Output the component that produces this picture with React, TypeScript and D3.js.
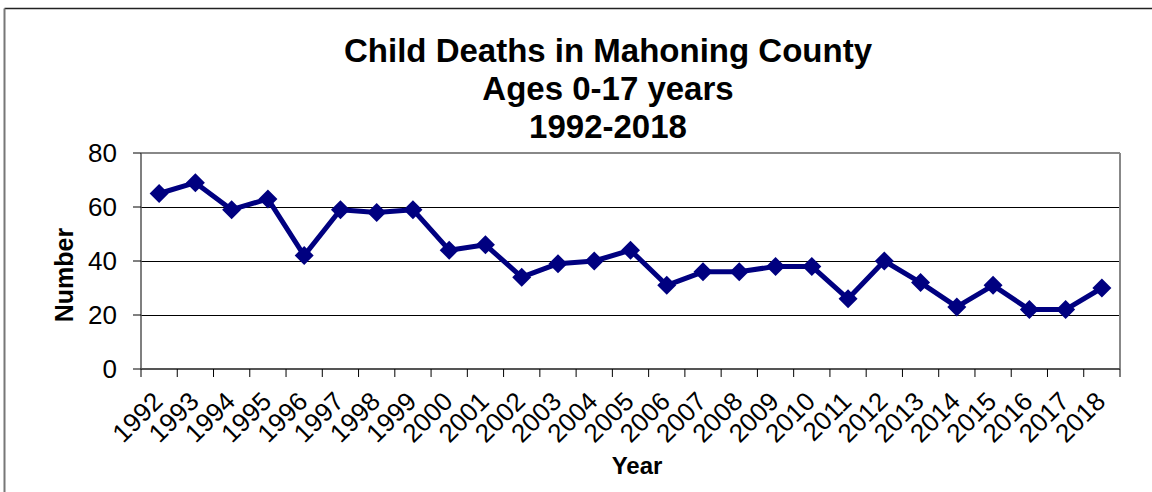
import * as d3 from "d3";

const years = [
  "1992", "1993", "1994", "1995", "1996", "1997", "1998", "1999", "2000",
  "2001", "2002", "2003", "2004", "2005", "2006", "2007", "2008", "2009",
  "2010", "2011", "2012", "2013", "2014", "2015", "2016", "2017", "2018",
];
const deaths = [
  65, 69, 59, 63, 42, 59, 58, 59, 44, 46, 34, 39, 40, 44, 31, 36, 36, 38, 38,
  26, 40, 32, 23, 31, 22, 22, 30,
];
const yTicks = [0, 20, 40, 60, 80];
const titleLines = ["Child Deaths in Mahoning County", "Ages 0-17 years", "1992-2018"];

const W = 1152;
const H = 492;
const font = "'Liberation Sans', Arial, sans-serif";

export default function App() {
  const left = 141;
  const right = 1120;
  const top = 153;
  const bottom = 369;

  const x = d3.scaleBand().domain(years).range([left, right]).padding(0);
  const y = d3.scaleLinear().domain([0, 80]).range([bottom, top]);

  const line = d3
    .line<number>()
    .x((_, i) => (x(years[i]) as number) + x.bandwidth() / 2)
    .y((d) => y(d));

  const r = 9.5; // diamond half-diagonal
  const diamond = `M0,${-r}L${r},0L0,${r}L${-r},0Z`;

  // tick marks sit on category boundaries
  const boundaries = years.map((yr) => x(yr) as number).concat([right]);

  return (
    <svg
      width={W}
      height={H}
      style={{ position: "absolute", left: 0, top: 0, background: "#fff" }}
      fontFamily={font}
    >
      {/* outer chart border */}
      <line x1={4.5} x2={W + 5} y1={8.5} y2={8.5} stroke="#222" strokeWidth={1.5} />
      <line x1={4.5} x2={4.5} y1={8.5} y2={H + 5} stroke="#777" strokeWidth={2} />

      {/* title */}
      {titleLines.map((t, i) => (
        <text
          key={t}
          x={608}
          y={62 + i * 38}
          textAnchor="middle"
          fontSize={33}
          fontWeight="bold"
        >
          {t}
        </text>
      ))}

      {/* gridlines */}
      {yTicks
        .filter((v) => v > 0 && v < 80)
        .map((v) => (
          <line
            key={v}
            x1={left}
            x2={right}
            y1={y(v) + 0.5}
            y2={y(v) + 0.5}
            stroke="#000"
            strokeWidth={1}
            shapeRendering="crispEdges"
          />
        ))}

      {/* plot area border */}
      <line x1={left} x2={right} y1={top} y2={top} stroke="#888" strokeWidth={2} />
      <line x1={right} x2={right} y1={top} y2={bottom} stroke="#888" strokeWidth={2} />
      <line x1={left} x2={left} y1={top} y2={bottom} stroke="#555" strokeWidth={1.5} />
      <line x1={left} x2={right} y1={bottom} y2={bottom} stroke="#555" strokeWidth={2} />

      {/* y axis */}
      {yTicks.map((v) => (
        <g key={v}>
          <line x1={left - 8} x2={left} y1={y(v)} y2={y(v)} stroke="#000" />
          <text x={117} y={y(v)} dy="0.36em" textAnchor="end" fontSize={26}>
            {v}
          </text>
        </g>
      ))}

      {/* x axis ticks */}
      {boundaries.map((bx, i) => (
        <line key={i} x1={bx} x2={bx} y1={bottom} y2={bottom + 8} stroke="#000" />
      ))}
      {years.map((yr) => {
        const cx = (x(yr) as number) + x.bandwidth() / 2 + 5;
        const cy = bottom + 34;
        return (
          <text
            key={yr}
            x={cx}
            y={cy}
            textAnchor="end"
            fontSize={26}
            transform={`rotate(-45, ${cx}, ${cy})`}
          >
            {yr}
          </text>
        );
      })}

      {/* axis titles */}
      <text
        x={0}
        y={0}
        transform={`translate(73, 275) rotate(-90)`}
        textAnchor="middle"
        fontSize={25}
        fontWeight="bold"
      >
        Number
      </text>
      <text x={637} y={474} textAnchor="middle" fontSize={24} fontWeight="bold">
        Year
      </text>

      {/* series */}
      <path d={line(deaths) ?? ""} fill="none" stroke="#000080" strokeWidth={5} strokeLinejoin="round" />
      {deaths.map((v, i) => (
        <path
          key={i}
          d={diamond}
          transform={`translate(${(x(years[i]) as number) + x.bandwidth() / 2}, ${y(v)})`}
          fill="#000080"
        />
      ))}
    </svg>
  );
}
